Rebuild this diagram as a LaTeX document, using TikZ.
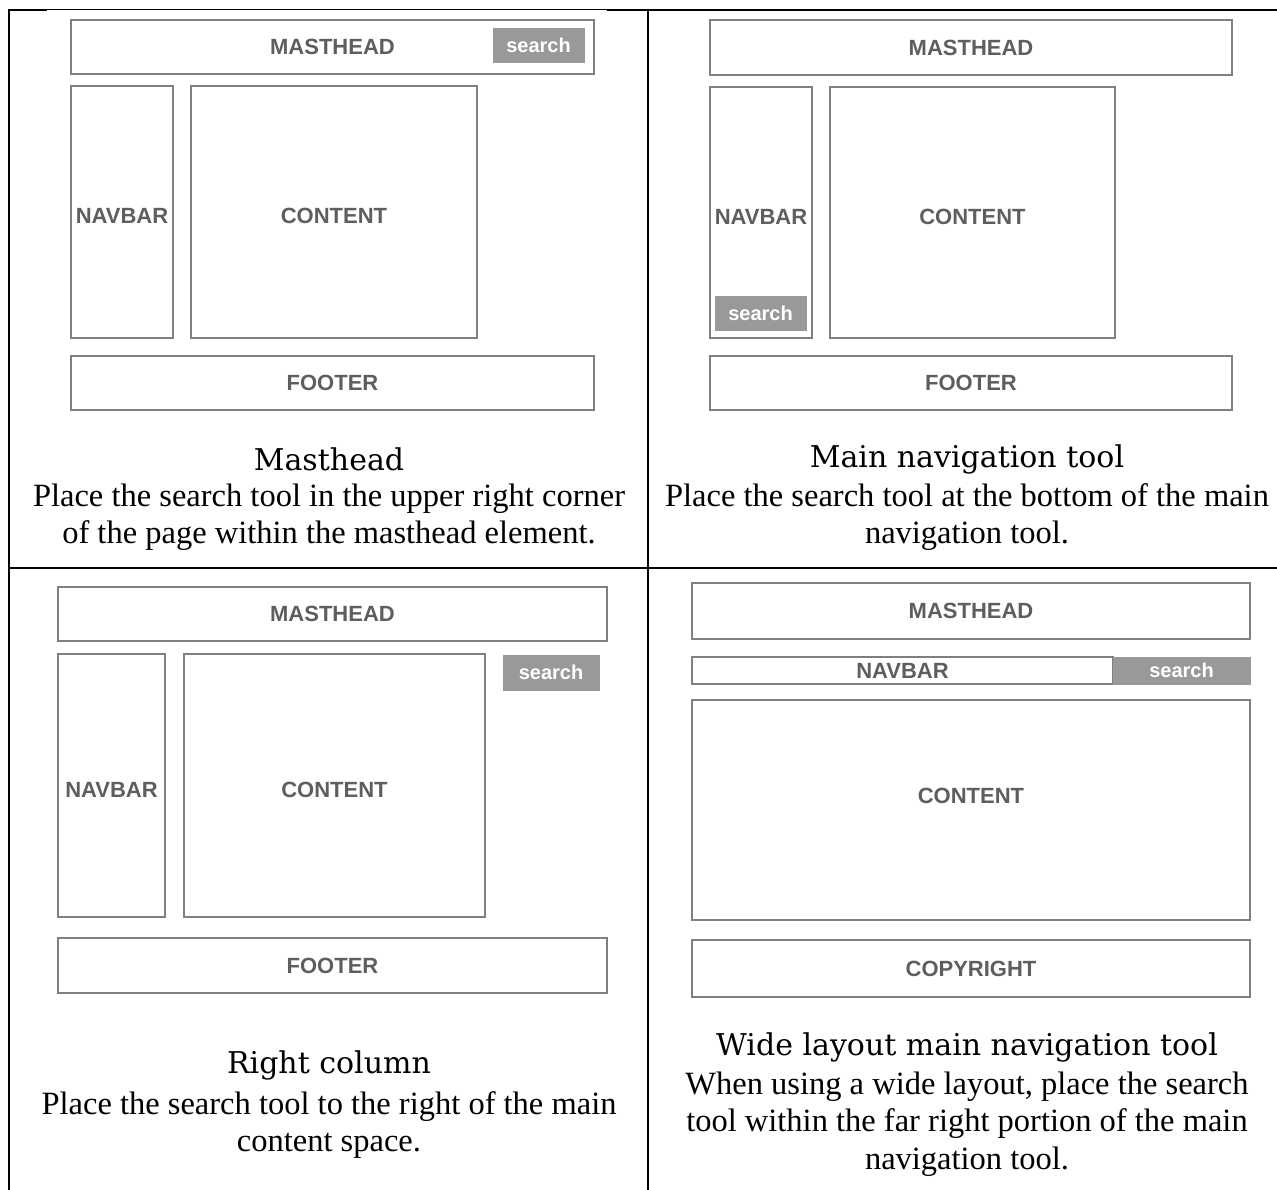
\documentclass[tikz,border=0pt]{standalone}
\usepackage{fontspec}
\setmainfont{Liberation Serif}
\newfontfamily\wfboxfont{Liberation Sans}
\newfontfamily\wftitlefont{DejaVu Serif}
\definecolor{boxgray}{HTML}{7F7F7F}
\definecolor{labelgray}{HTML}{5E5E5E}
\definecolor{searchgray}{HTML}{999999}
\newcommand\wfbox[7][]{\node[wf,#1,anchor=north west,minimum width={(#5-#3)*1pt},minimum height={(#6-#4)*1pt}] (#2) at (#3,#4) {#7};}
\begin{document}
\begin{tikzpicture}[x=1pt,y=-1pt,
  wf/.style={draw=boxgray,line width=1.8pt,fill=white,inner sep=0pt,outer sep=0pt,text=labelgray,
    font=\wfboxfont\bfseries\fontsize{22}{24}\selectfont},
  low/.style={text height=24pt,text depth=0pt},
  high/.style={text height=16pt,text depth=30pt},
  srch/.style={fill=searchgray,draw=searchgray,line width=0.5pt,text=white,
    font=\wfboxfont\bfseries\fontsize{20}{24}\selectfont},
  ttl/.style={font=\wftitlefont\fontsize{30}{36}\selectfont,inner sep=0pt},
  dsc/.style={font=\fontsize{32.5}{37.5}\selectfont,align=center,inner sep=0pt},
  rule/.style={black,line width=2pt}]
\useasboundingbox (0,0) rectangle (1277,1190);
% table rules
\draw[rule] (8,10) -- (47,10);
\draw[black,line width=1pt] (47,10) -- (607,10);
\draw[rule] (607,10) -- (1277,10);
\draw[rule] (9,9) -- (9,1190);
\draw[rule] (648,9) -- (648,1190);
\draw[rule] (8,568) -- (1277,568);
% panel 1
\wfbox{a-mast}{71}{20}{594}{74}{MASTHEAD}
\wfbox[srch]{a-srch}{493}{28}{584}{62}{search}
\wfbox[low]{a-nav}{71}{86}{173}{338}{NAVBAR}
\wfbox[low]{a-cont}{191}{86}{477}{338}{CONTENT}
\wfbox{a-foot}{71}{356}{594}{410}{FOOTER}
\node[ttl] (a-ttl) at (329,459) {Masthead};
\node[dsc] (a-dsc) at (329,517) {Place the search tool in the upper right corner\\of the page within the masthead element.};
% panel 2
\wfbox{b-mast}{710}{20}{1232}{75}{MASTHEAD}
\wfbox[low]{b-nav}{710}{87}{812}{338}{NAVBAR}
\wfbox[srch]{b-srch}{715}{296}{806}{330}{search}
\wfbox[low]{b-cont}{830}{87}{1115}{338}{CONTENT}
\wfbox{b-foot}{710}{356}{1232}{410}{FOOTER}
\node[ttl] (b-ttl) at (967,459) {Main navigation tool};
\node[dsc] (b-dsc) at (967,517) {Place the search tool at the bottom of the main\\navigation tool.};
% panel 3
\wfbox{c-mast}{58}{587}{607}{641}{MASTHEAD}
\wfbox[low]{c-nav}{58}{654}{165}{917}{NAVBAR}
\wfbox[low]{c-cont}{184}{654}{485}{917}{CONTENT}
\wfbox[srch]{c-srch}{503}{655}{599}{690}{search}
\wfbox{c-foot}{58}{938}{607}{993}{FOOTER}
\node[ttl] (c-ttl) at (329,1065) {Right column};
\node[dsc] (c-dsc) at (329,1125) {Place the search tool to the right of the main\\content space.};
% panel 4
\wfbox{d-mast}{692}{583}{1250}{639}{MASTHEAD}
\wfbox{d-nav}{692}{657}{1113}{684}{NAVBAR}
\wfbox[srch]{d-srch}{1113}{657}{1250}{684}{search}
\wfbox[high]{d-cont}{692}{700}{1250}{920}{CONTENT}
\wfbox{d-copy}{692}{940}{1250}{997}{COPYRIGHT}
\node[ttl] (d-ttl) at (967,1047) {Wide layout main navigation tool};
\node[dsc] (d-dsc) at (967,1124) {When using a wide layout, place the search\\tool within the far right portion of the main\\navigation tool.};
\end{tikzpicture}
\end{document}
